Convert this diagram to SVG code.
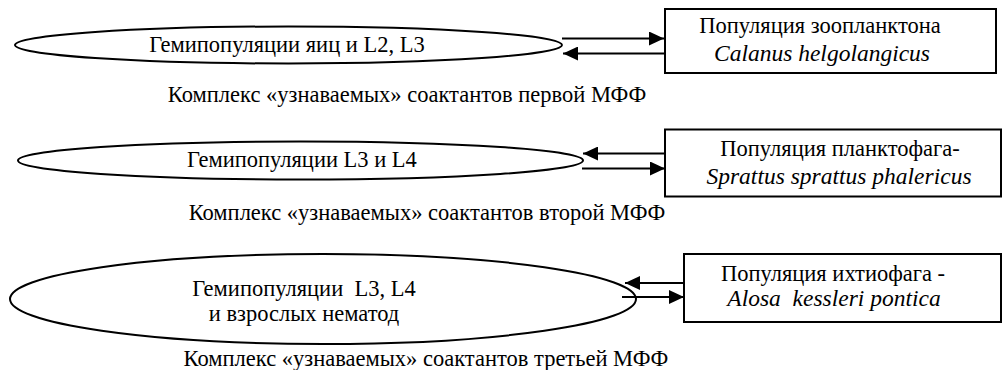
<svg xmlns="http://www.w3.org/2000/svg" width="1004" height="370" viewBox="0 0 1004 370">
  <defs>
    <style>
      .shape { fill: #ffffff; stroke: #000000; stroke-width: 2; }
      .link { fill: none; stroke: #000000; stroke-width: 2; }
    </style>
    <marker id="head" markerUnits="userSpaceOnUse" markerWidth="16" markerHeight="14" refX="15" refY="7" orient="auto">
      <path d="M0,0 L15,7 L0,14 Z" fill="#000000"/>
    </marker>
  </defs>
  <rect width="1004" height="370" fill="#ffffff"/>

  <g font-size="22.5" fill="#000000" text-anchor="middle">
    <!-- first level: eggs and L2, L3 and zooplankton -->
    <g id="hemi-eggs-l2-l3">
      <ellipse class="shape" cx="288.5" cy="45" rx="273.5" ry="18.5"/>
      <text font-family="Liberation Serif" x="287" y="52">Гемипопуляции яиц и L2, L3</text>
    </g>
    <g id="zooplankton">
      <rect class="shape" x="665" y="9" width="331" height="64"/>
      <text font-family="Liberation Serif" x="820" y="33">Популяция зоопланктона</text>
      <text font-family="Liberation Serif" font-style="italic" font-size="23.5" x="822" y="61">Calanus helgolangicus</text>
    </g>
    <text id="caption-1" font-family="Liberation Serif" x="407" y="102">Комплекс «узнаваемых» соактантов первой МФФ</text>

    <!-- second level: L3 and L4 and planktivore -->
    <g id="hemi-l3-l4">
      <ellipse class="shape" cx="300.5" cy="160.5" rx="282.5" ry="19"/>
      <text font-family="Liberation Serif" x="302" y="167">Гемипопуляции L3 и L4</text>
    </g>
    <g id="planktivore">
      <rect class="shape" x="665" y="129.5" width="336" height="67"/>
      <text font-family="Liberation Serif" x="840" y="156">Популяция планктофага-</text>
      <text font-family="Liberation Serif" font-style="italic" font-size="23.5" x="839" y="184">Sprattus sprattus phalericus</text>
    </g>
    <text id="caption-2" font-family="Liberation Serif" x="427" y="220">Комплекс «узнаваемых» соактантов второй МФФ</text>

    <!-- third level: L3, L4 and adults and ichthyophage -->
    <g id="hemi-l3-l4-adults">
      <ellipse class="shape" cx="323" cy="299" rx="313" ry="45"/>
      <text font-family="Liberation Serif" x="304" y="296" xml:space="preserve">Гемипопуляции  L3, L4</text>
      <text font-family="Liberation Serif" x="304" y="321">и взрослых нематод</text>
    </g>
    <g id="ichthyophage">
      <rect class="shape" x="684" y="254" width="317" height="68"/>
      <text font-family="Liberation Serif" x="833" y="281">Популяция ихтиофага -</text>
      <text font-family="Liberation Serif" font-style="italic" font-size="23.5" x="834" y="306" xml:space="preserve">Alosa  kessleri pontica</text>
    </g>
    <text id="caption-3" font-family="Liberation Serif" x="426" y="366">Комплекс «узнаваемых» соактантов третьей МФФ</text>
  </g>

  <!-- paired arrows between each hemipopulation and its host -->
  <g id="connectors">
    <line class="link" x1="562" y1="38.5" x2="664" y2="38.5" marker-end="url(#head)"/>
    <line class="link" x1="664" y1="53.5" x2="563" y2="53.5" marker-end="url(#head)"/>
    <line class="link" x1="665" y1="153.5" x2="583" y2="153.5" marker-end="url(#head)"/>
    <line class="link" x1="582" y1="168.5" x2="665" y2="168.5" marker-end="url(#head)"/>
    <line class="link" x1="684" y1="283" x2="625" y2="283" marker-end="url(#head)"/>
    <line class="link" x1="622" y1="297" x2="684" y2="297" marker-end="url(#head)"/>
  </g>
</svg>
